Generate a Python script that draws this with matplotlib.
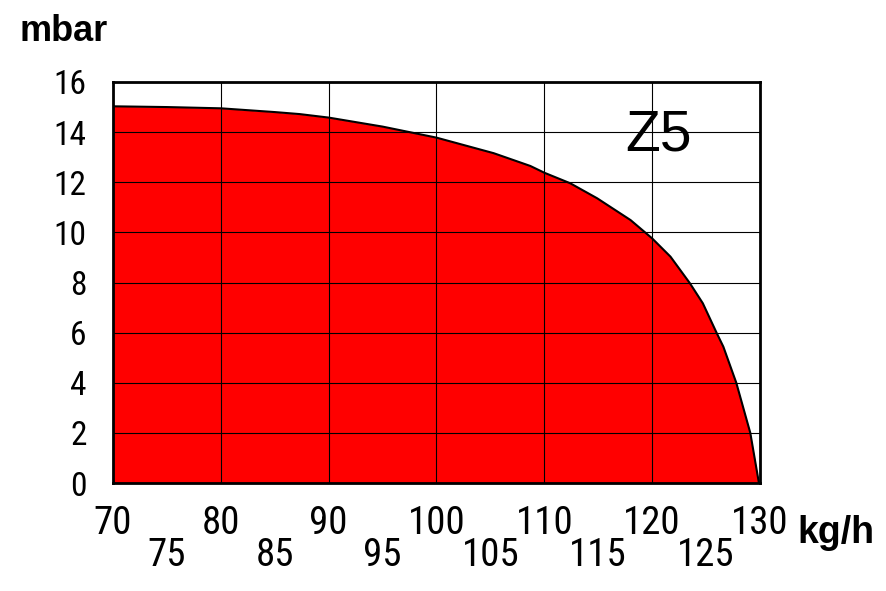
import numpy as np
import matplotlib
matplotlib.use('Agg')
import matplotlib.pyplot as plt
from matplotlib import font_manager

# flow (kg/h) and pressure (mbar)
flow = [70, 75, 80, 85, 87.3, 90, 95, 100, 105.3, 108.7, 110, 112.4, 114.9,
        118, 120, 121.7, 123.5, 124.7, 126, 126.6, 127.8, 129.1, 129.9]
pressure = [15.03, 15.0, 14.95, 14.8, 14.72, 14.58, 14.22, 13.78, 13.16, 12.65, 12.38, 11.96, 11.36,
            10.49, 9.76, 9.03, 7.97, 7.17, 5.97, 5.44, 4.0, 2.0, 0.0]

x_major = [70, 80, 90, 100, 110, 120, 130]
x_minor = [75, 85, 95, 105, 115, 125]
y_ticks = [0, 2, 4, 6, 8, 10, 12, 14, 16]

names = {f.name for f in font_manager.fontManager.ttflist}
narrow = 'DejaVu Sans'
for cand in ['Liberation Sans Narrow', 'DejaVu Sans Condensed', 'Roboto Condensed', 'Open Sans Condensed']:
    if cand in names:
        narrow = cand
        break
sans = 'Liberation Sans' if 'Liberation Sans' in names else 'DejaVu Sans'

fig = plt.figure(figsize=(8.87, 5.91), dpi=100)
ax = fig.add_axes([113 / 887, 1 - 483 / 591, 647 / 887, 401 / 591])

ax.fill_between(flow, pressure, 0, color='#ff0000', linewidth=0, zorder=1)
ax.plot(flow, pressure, color='black', linewidth=1.5, zorder=3)

ax.set_xlim(70, 130)
ax.set_ylim(0, 16)
ax.set_xticks(x_major)
ax.set_xticks(x_minor, minor=True)
ax.set_yticks(y_ticks)
ax.set_xticklabels([str(v) for v in x_major], family=narrow, fontsize=28)
ax.set_xticklabels([str(v) for v in x_minor], minor=True, family=narrow, fontsize=28)
ax.set_yticklabels([str(v) for v in y_ticks], family=narrow, fontsize=24)
ax.tick_params(axis='x', which='major', length=0, pad=16)
ax.tick_params(axis='x', which='minor', length=0, pad=39)
ax.tick_params(axis='y', length=0, pad=19)

ax.grid(True, which='major', color='black', linewidth=0.8, zorder=2)
ax.set_axisbelow(False)
for s in ax.spines.values():
    s.set_linewidth(2)
    s.set_zorder(4)

ax.text(120.6, 13.85, 'Z5', family=sans, fontsize=41, ha='center', va='center', zorder=5)
fig.text(20 / 887, 1 - 41 / 591, 'mbar', family=sans, fontsize=26, fontweight='bold', ha='left', va='baseline')
fig.text(797 / 887, 1 - 543 / 591, 'kg/h', family=sans, fontsize=27, fontweight='bold', ha='left', va='baseline')

fig.savefig('out.png', dpi=100)
